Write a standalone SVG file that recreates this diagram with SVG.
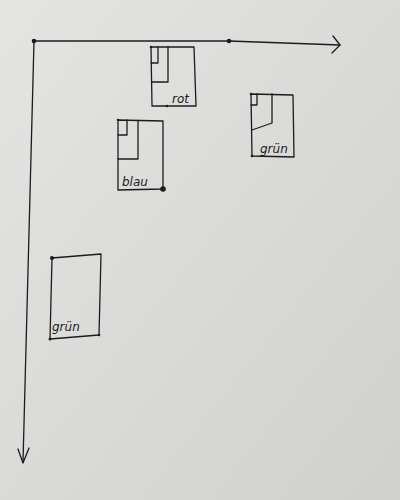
<svg xmlns="http://www.w3.org/2000/svg" width="400" height="500" viewBox="0 0 400 500">
<defs>
<linearGradient id="paper" x1="0" y1="0" x2="1" y2="1">
<stop offset="0" stop-color="#e4e4e2"/>
<stop offset="1" stop-color="#d0d0ce"/>
</linearGradient>
<style>
.ln{fill:none;stroke:#1c1c1c;stroke-width:1.3;stroke-linecap:round;stroke-linejoin:round}
.dot{fill:#1c1c1c}
.lbl{font-family:"DejaVu Sans",sans-serif;font-style:italic;font-size:12px;fill:#1c1c1c}
</style>
</defs>
<rect x="0" y="0" width="400" height="500" fill="url(#paper)"/>
<g id="connectors">
<path class="ln" d="M34,41 L229,41 L340,45"/>
<path class="ln" d="M333,36 L340,45 L332,53"/>
<path class="ln" d="M34,41 L23,462"/>
<path class="ln" d="M18,449 L23,463 L29,448"/>
<circle class="dot" cx="34" cy="41" r="2.3"/>
<circle class="dot" cx="229" cy="41" r="2.3"/>
</g>
<g id="rot">
<path class="ln" d="M151,47 L194,47 L196,106 L152,106 Z"/>
<path class="ln" d="M158,47 L158,63 L151,63"/>
<path class="ln" d="M168,47 L168,82 L152,82"/>
<circle class="dot" cx="151" cy="47" r="1.3"/>
<circle class="dot" cx="167" cy="106" r="1.2"/>
<text class="lbl" x="172" y="103">rot</text>
</g>
<g id="gruen1">
<path class="ln" d="M251,94 L293,95 L294,157 L252,156 Z"/>
<path class="ln" d="M257,94 L257,105 L251,105"/>
<path class="ln" d="M272,94 L272,123 L252,130"/>
<circle class="dot" cx="251" cy="94" r="1.3"/>
<circle class="dot" cx="252" cy="156" r="1.3"/>
<text class="lbl" x="260" y="153">grün</text>
</g>
<g id="blau">
<path class="ln" d="M118,120 L163,121 L163,189 L118,190 Z"/>
<path class="ln" d="M127,120 L127,135 L118,135"/>
<path class="ln" d="M138,121 L138,159 L118,159"/>
<circle class="dot" cx="118" cy="120" r="1.3"/>
<circle class="dot" cx="163" cy="189" r="2.8"/>
<text class="lbl" x="122" y="186">blau</text>
</g>
<g id="gruen2">
<path class="ln" d="M52,258 L101,254 L99,335 L50,339 Z"/>
<circle class="dot" cx="52" cy="258" r="2"/>
<circle class="dot" cx="50" cy="339" r="1.5"/>
<circle class="dot" cx="99" cy="335" r="1.3"/>
<text class="lbl" x="52" y="331">grün</text>
</g>
</svg>
